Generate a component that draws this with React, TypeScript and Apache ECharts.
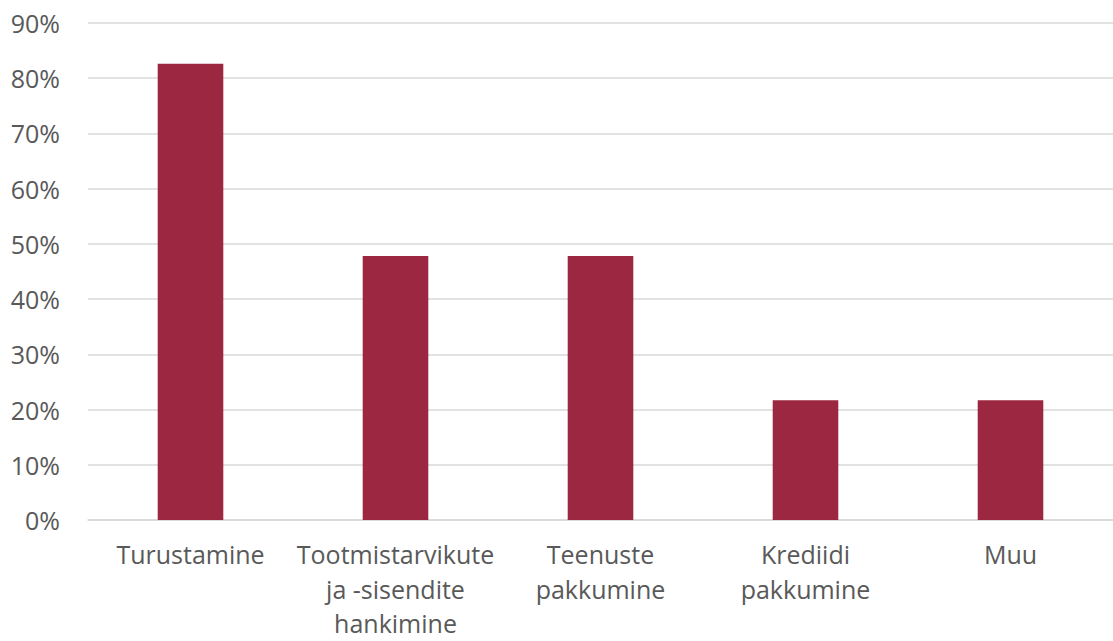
import React, { useEffect, useRef } from "react";
import * as echarts from "echarts";

const categories = [
  "Turustamine",
  "Tootmistarvikute\nja -sisendite\nhankimine",
  "Teenuste\npakkumine",
  "Krediidi\npakkumine",
  "Muu",
];
const values = [0.826, 0.478, 0.478, 0.217, 0.217];

export default function App() {
  const ref = useRef<HTMLDivElement>(null);
  useEffect(() => {
    const chart = echarts.init(ref.current!, null, { renderer: "svg" });
    chart.setOption({
      animation: false,
      backgroundColor: "#ffffff",
      textStyle: { fontFamily: "Open Sans" },
      grid: {
        left: 88,
        right: 0,
        top: 23,
        bottom: 121,
        containLabel: false,
        outerBoundsMode: "none",
      },
      xAxis: {
        type: "category",
        data: categories,
        axisLine: { show: true, lineStyle: { color: "#d9d9d9", width: 1.5 } },
        axisTick: { show: false },
        axisLabel: {
          color: "#595959",
          fontSize: 25,
          lineHeight: 34.5,
          margin: 17,
          interval: 0,
          fontFamily: "Open Sans",
        },
      },
      yAxis: {
        type: "value",
        min: 0,
        max: 0.9,
        interval: 0.1,
        axisLine: { show: false },
        axisTick: { show: false },
        splitLine: { lineStyle: { color: "#d9d9d9", width: 1.5 } },
        axisLabel: {
          color: "#595959",
          fontSize: 25,
          margin: 28,
          fontFamily: "Open Sans",
          formatter: (v: number) => Math.round(v * 100) + "%",
        },
      },
      series: [
        {
          type: "bar",
          data: values,
          barWidth: "32%",
          itemStyle: { color: "#9c2741" },
        },
      ],
    });
    return () => chart.dispose();
  }, []);
  return (
    <div
      ref={ref}
      style={{ position: "fixed", left: 0, top: 0, width: 1113, height: 641, background: "#fff" }}
    />
  );
}
